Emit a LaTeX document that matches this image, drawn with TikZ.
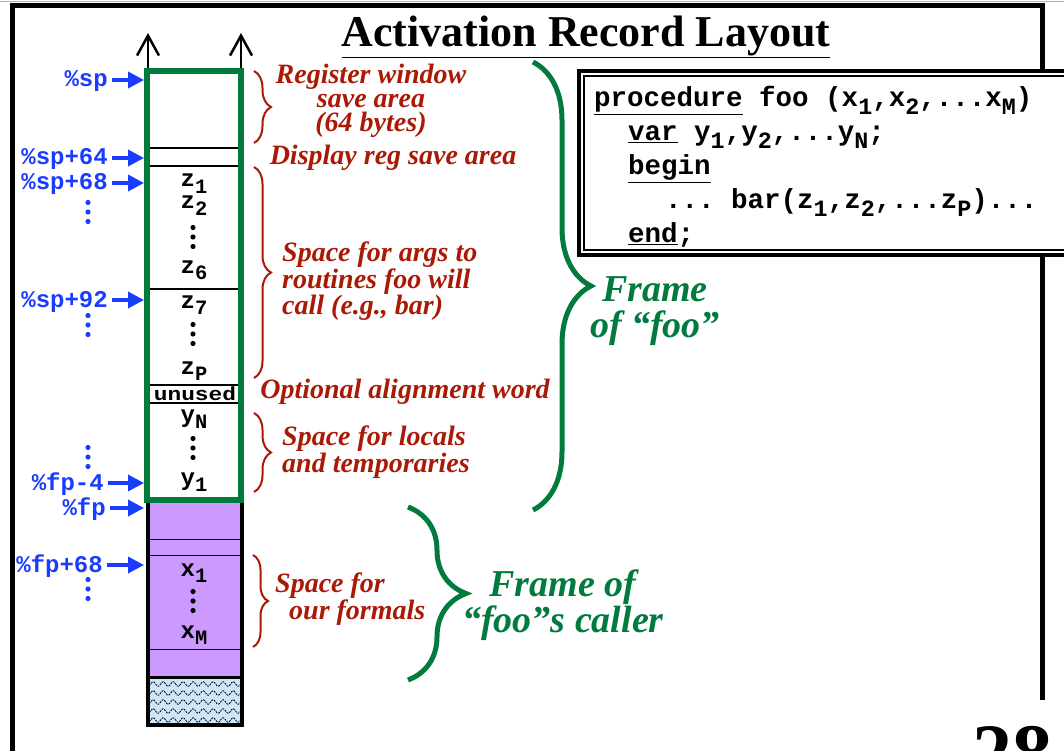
\documentclass[tikz,border=0pt]{standalone}
\usepackage{fontspec}
\setmainfont{Liberation Serif}
\setmonofont{Liberation Mono}
\usepackage{tikz}
\usetikzlibrary{arrows.meta, decorations.pathreplacing, decorations.pathmorphing}
\definecolor{frmgreen}{RGB}{0,122,61}
\definecolor{notered}{RGB}{170,25,5}
\definecolor{ptrblue}{RGB}{25,60,255}
\definecolor{argpurple}{RGB}{204,153,255}
\definecolor{padblue}{RGB}{205,230,250}
\newcommand{\dn}[1]{\raisebox{-.5ex}{\scalebox{.85}{#1}}}

\begin{document}
\begin{tikzpicture}[x=1pt, y=-1pt,
  ptr/.style={font=\ttfamily\bfseries\fontsize{24}{24}\selectfont,
    text=ptrblue, anchor=east, inner sep=0pt, text height=17pt, text depth=3pt},
  ptrarr/.style={-{Triangle[length=16pt, width=16pt]}, line width=3.5pt, ptrblue},
  slot/.style={font=\ttfamily\bfseries\fontsize{24}{24}\selectfont,
    anchor=base, inner sep=0pt},
  note/.style={font=\bfseries\itshape\fontsize{28}{24}\selectfont,
    text=notered, inner sep=0pt},
  frm/.style={font=\bfseries\itshape\fontsize{38}{36}\selectfont,
    text=frmgreen, inner sep=0pt, align=center},
  rbrace/.style={decorate, decoration={brace, amplitude=17pt}, notered, line width=2pt},
  gbrace/.style={decorate, decoration={brace, amplitude=58pt}, frmgreen, line width=5pt},
  code/.style={font=\ttfamily\bfseries\fontsize{27.5}{27.5}\selectfont,
    anchor=base west, inner sep=0pt},
  sepline/.style={line width=2.5pt},
  hairline/.style={line width=0.8pt},
  upgrow/.style={-{Straight Barb[length=20pt, width=22pt]}, line width=2.5pt}
]
\useasboundingbox (0,0) rectangle (1064,751);
% Slide frame
\draw[gray!60, line width=1pt] (0,1.5) -- (1064,1.5);
\draw[line width=5pt] (12,751) -- (12,6) -- (1042,6) -- (1042,700);
% Title
\node[font=\bfseries\fontsize{44}{44}\selectfont, inner sep=0pt] (title) at (586,37)
  {\underline{Activation Record Layout}};
% Column edges
\coordinate (colL) at (144,0);
\coordinate (colR) at (242,0);
% Caller frame (purple) and beyond
\fill[argpurple] (147,500) rectangle (242,677);
\begin{scope}
  \clip (147,677) rectangle (242,725);
  \fill[padblue] (147,677) rectangle (242,725);
  \foreach \yy in {684,693,...,723}
    \draw[decorate, decoration={snake, amplitude=2.3pt, segment length=10pt},
      dash pattern=on 2pt off 1pt, line width=0.8pt] (140,\yy) -- (250,\yy);
\end{scope}
\draw[hairline] (147,539) -- (242,539);
\draw[hairline] (147,555) -- (242,555);
\draw[hairline] (147,649) -- (242,649);
\draw[line width=3pt] (147,677) -- (242,677);
\draw[line width=4pt] (148,500) -- (148,725) -- (242,725) -- (242,500);
% Frame of foo
\draw[sepline] (150,148) -- (239,148);
\draw[sepline] (150,166) -- (239,166);
\draw[sepline] (150,289) -- (239,289);
\draw[sepline] (150,385) -- (239,385);
\draw[sepline] (150,403) -- (239,403);
\draw[frmgreen, line width=6pt] (147,71) rectangle (241,500);
\draw[upgrow] (148,68) -- (148,33);
\draw[upgrow] (241,68) -- (241,33);
% Slot contents
\node[slot] (z1) at (194,187) {z\dn{1}};
\node[slot] (z2) at (194,209) {z\dn{2}};
\node[slot] (z6) at (194,273) {z\dn{6}};
\node[slot] (z7) at (194,308) {z\dn{7}};
\node[slot] (zp) at (194,374) {z\dn{P}};
\node[slot, font=\ttfamily\bfseries\fontsize{19}{19}\selectfont] (unused) at (195,400)
  {\scalebox{1.2}[1]{unused}};
\node[slot] (yn) at (194,422) {y\dn{N}};
\node[slot] (y1) at (194,485) {y\dn{1}};
\node[slot] (x1) at (194,576) {x\dn{1}};
\node[slot] (xm) at (194,638) {x\dn{M}};
\foreach \yy in {237,334,448,601}
  \foreach \k in {-9.5,0,9.5}
    \fill (193,\yy+\k) circle (2.6pt);
% Pointers
\node[ptr] (sp) at (108,80) {\%sp};
\node[ptr] (sp64) at (108,158) {\%sp+64};
\node[ptr] (sp68) at (108,183) {\%sp+68};
\node[ptr] (sp92) at (108,300) {\%sp+92};
\node[ptr] (fp4) at (104,483) {\%fp-4};
\node[ptr] (fp) at (106,508) {\%fp};
\node[ptr] (fp68) at (103,565) {\%fp+68};
\foreach \yy in {212,325,457,589}
  \foreach \k in {-9.5,0,9.5}
    \fill[ptrblue] (88,\yy+\k) circle (2.6pt);
\draw[ptrarr] ([xshift=4pt]sp.east) -- (sp.east -| colL);
\draw[ptrarr] ([xshift=4pt]sp64.east) -- (sp64.east -| colL);
\draw[ptrarr] ([xshift=4pt]sp68.east) -- (sp68.east -| colL);
\draw[ptrarr] ([xshift=4pt]sp92.east) -- (sp92.east -| colL);
\draw[ptrarr] ([xshift=4pt]fp4.east) -- (fp4.east -| colL);
\draw[ptrarr] ([xshift=4pt]fp.east) -- (fp.east -| colL);
\draw[ptrarr] ([xshift=4pt]fp68.east) -- (fp68.east -| colL);
% Red notes
\draw[rbrace] (254,71) -- (254,143);
\draw[rbrace] (254,167) -- (254,378);
\draw[rbrace] (254,413) -- (254,492);
\draw[rbrace, decoration={amplitude=15pt}] (253,555) -- (253,647);
\node[note, align=center] (regwin) at (371,101)
  {Register window\\save area\\(64 bytes)};
\node[note] (dispreg) at (393,158) {Display reg save area};
\node[note, align=left, anchor=west] (argspace) at (282,281)
  {Space for args to\\routines foo will\\call (e.g., bar)};
\node[note] (align) at (405,392) {Optional alignment word};
\node[note, align=left, anchor=west] (locals) at (282,452)
  {Space for locals\\and temporaries};
\node[note, align=left, anchor=west] (formals) at (275,599)
  {Space for\\\hspace*{14pt}our formals};
% Green frames
\draw[gbrace] (533,62) -- (533,510);
\draw[gbrace] (408,507) -- (408,680);
\node[frm] (fooframe) at (655,311) {Frame\\of “foo”};
\node[frm] (callerframe) at (563,605) {Frame of\\“foo”s caller};
% Source code
\draw[line width=4pt, fill=white] (579,71) rectangle (1090,255);
\draw[line width=1.2pt] (584,76) rectangle (1090,250);
\node[code] (c1) at (594,107) {\underline{procedure} foo (x\dn{1},x\dn{2},...x\dn{M})};
\node[code] (c2) at (628,141) {\underline{var} y\dn{1},y\dn{2},...y\dn{N};};
\node[code] (c3) at (628,175) {\underline{begin}};
\node[code] (c4) at (665,209) {... bar(z\dn{1},z\dn{2},...z\dn{P})...};
\node[code] (c5) at (628,243) {\underline{end};};
% Page number
\node[font=\bfseries\fontsize{80}{80}\selectfont, anchor=north west, inner sep=0pt]
  (pgno) at (972,726) {28};
\end{tikzpicture}
\end{document}
